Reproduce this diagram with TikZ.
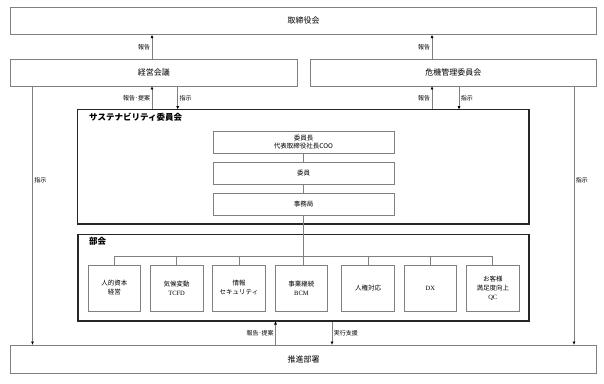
\documentclass[tikz,border=0pt]{standalone}
\usepackage{fontspec}
\setmainfont{Noto Sans CJK JP}
\newfontfamily\latserif{Liberation Serif}
\usetikzlibrary{arrows.meta}
\definecolor{lgray}{RGB}{128,128,128}
\begin{document}
\begin{tikzpicture}[x=1pt,y=-1pt,
  gbox/.style={draw=lgray,line width=0.8pt,fill=white,inner sep=0pt,align=center,font=\fontsize{8}{10}\selectfont},
  bigbox/.style={draw=black!85,line width=1.1pt,inner sep=0pt},
  small/.style={draw=lgray,line width=0.7pt,inner sep=0pt,align=center,minimum width=52.8pt,minimum height=46pt,font=\fontsize{6.5}{9}\selectfont},
  mid/.style={draw=lgray,line width=0.7pt,inner sep=0pt,align=center,minimum width=181pt,minimum height=22pt,font=\fontsize{6.5}{8}\selectfont},
  conn/.style={draw=lgray,line width=0.7pt},
  arr/.style={conn,-{Triangle[length=3pt,width=2.6pt,color=black]}},
  lbl/.style={font=\fontsize{6}{7}\selectfont,inner sep=1.5pt}
]
\useasboundingbox (0,0) rectangle (604,383);
% main boxes
\node[gbox,minimum width=586pt,minimum height=27.7pt] (board) at (303.5,20.85) {取締役会};
\node[gbox,minimum width=286.5pt,minimum height=27pt] (keiei) at (153.75,72.5) {経営会議};
\node[gbox,minimum width=286.5pt,minimum height=27pt] (kiki) at (453.25,72.5) {危機管理委員会};
\node[bigbox,minimum width=451.3pt,minimum height=114.3pt] (sust) at (303.35,166.85) {};
\node[bigbox,minimum width=451pt,minimum height=86.7pt] (bukai) at (303.5,277.65) {};
\node[gbox,minimum width=586pt,minimum height=28pt] (suishin) at (303.5,359) {推進部署};
% titles
\node[anchor=west,inner sep=0pt,font=\bfseries\fontsize{8.5}{10}\selectfont] (sustT) at (89,117.5) {サステナビリティ委員会};
\node[anchor=west,inner sep=0pt,font=\bfseries\fontsize{8.5}{10}\selectfont] (bukaiT) at (89,241) {部会};
% committee
\node[mid] (chair) at (303.5,142.3) {委員長\\代表取締役社長COO};
\node[mid] (member) at (303.5,173.3) {委員};
\node[mid] (office) at (303.5,204.3) {事務局};
% sub committees
\node[small] (b1) at (114.4,288) {人的資本\\経営};
\node[small] (b2) at (176.6,288) {気候変動\\{\latserif TCFD}};
\node[small] (b3) at (239,288) {情報\\セキュリティ};
\node[small] (b4) at (301.4,288) {事業継続\\{\latserif BCM}};
\node[small] (b5) at (368.2,288) {人権対応};
\node[small] (b6) at (430.4,288) {{\latserif DX}};
\node[small] (b7) at (492.8,288) {お客様\\満足度向上\\{\latserif QC}};
% helper coordinates
\coordinate (xa) at (152,0);
\coordinate (xb) at (177.7,0);
\coordinate (xc) at (432,0);
\coordinate (xd) at (459,0);
\coordinate (xl) at (32.5,0);
\coordinate (xr) at (574,0);
\coordinate (xe) at (275.5,0);
\coordinate (xf) at (332,0);
\coordinate (xm) at (303.5,0);
\coordinate (bus) at (0,256);
% vertical chain
\draw[conn] (chair.south) -- (member.north);
\draw[conn] (member.south) -- (office.north);
\draw[conn] (office.south) -- (bus -| xm) -- (b4.north -| xm);
\draw[conn] (bus -| b1.north) -- (bus -| b7.north);
\foreach \b in {b1,b2,b3,b5,b6,b7} \draw[conn] (bus -| \b.north) -- (\b.north);
% arrows
\draw[arr] (keiei.north -| xa) -- node[lbl,left] {報告} (board.south -| xa);
\draw[arr] (kiki.north -| xc) -- node[lbl,left] {報告} (board.south -| xc);
\draw[arr] (sust.north -| xa) -- node[lbl,left] {報告･提案} (keiei.south -| xa);
\draw[arr] (keiei.south -| xb) -- node[lbl,right] {指示} (sust.north -| xb);
\draw[arr] (sust.north -| xc) -- node[lbl,left] {報告} (kiki.south -| xc);
\draw[arr] (kiki.south -| xd) -- node[lbl,right] {指示} (sust.north -| xd);
\draw[arr] (keiei.south -| xl) -- node[lbl,right,pos=0.365] {指示} (suishin.north -| xl);
\draw[arr] (kiki.south -| xr) -- node[lbl,right,pos=0.365] {指示} (suishin.north -| xr);
\draw[arr] (suishin.north -| xe) -- node[lbl,left] {報告･提案} (bukai.south -| xe);
\draw[arr] (bukai.south -| xf) -- node[lbl,right] {実行支援} (suishin.north -| xf);
\end{tikzpicture}
\end{document}
